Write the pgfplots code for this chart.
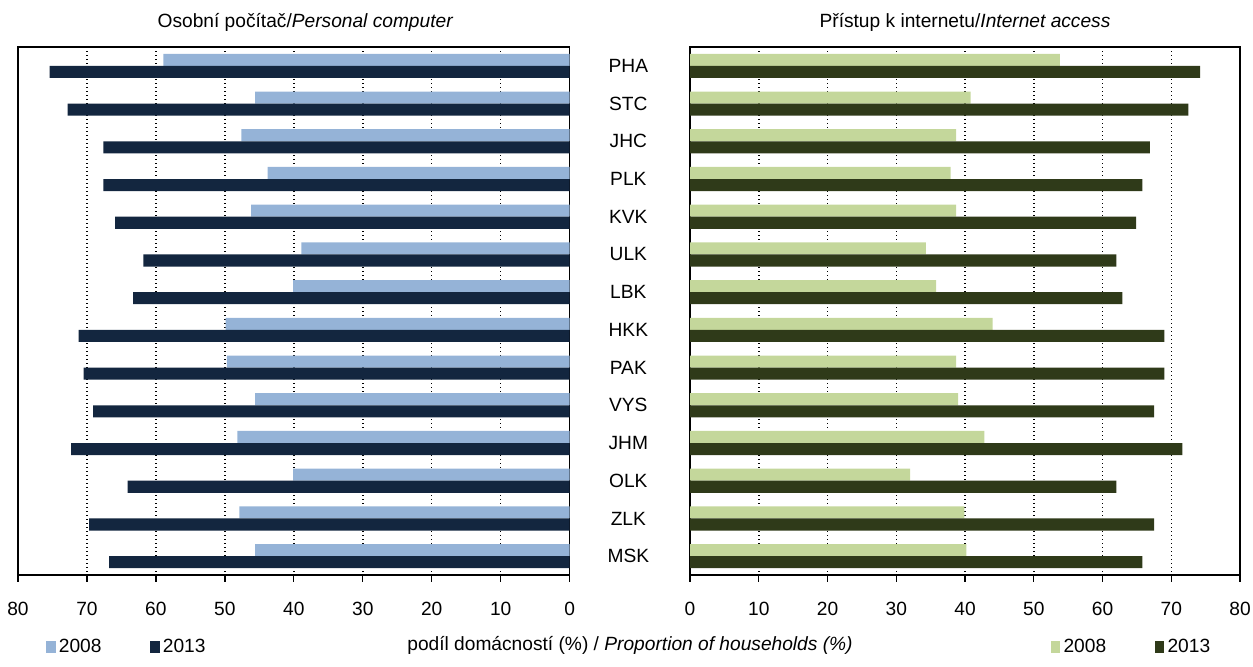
\documentclass[border=0pt]{standalone}
\usepackage{fontspec}
\setmainfont{Liberation Sans}
\usepackage{pgfplots}
\usepackage{pgfplotstable}
\pgfplotsset{compat=1.18}

\definecolor{pcLight}{HTML}{95B3D7}
\definecolor{pcDark}{HTML}{13263F}
\definecolor{iaLight}{HTML}{C4D79B}
\definecolor{iaDark}{HTML}{2F3A19}

% share of households, regions top to bottom
\pgfplotstableread{
idx pc08 pc13 ia08 ia13
0  58.9 75.4 53.8 74.2
1  45.6 72.8 40.8 72.5
2  47.6 67.6 38.7 66.9
3  43.8 67.6 37.9 65.8
4  46.2 65.9 38.7 64.9
5  38.9 61.8 34.3 62.0
6  40.1 63.3 35.8 62.9
7  49.9 71.2 44.0 69.0
8  49.7 70.5 38.7 69.0
9  45.6 69.1 39.0 67.5
10 48.2 72.3 42.8 71.6
11 40.1 64.1 32.0 62.0
12 47.9 69.7 39.9 67.5
13 45.6 66.8 40.2 65.8
}\regions

\def\chartfont{\fontsize{11.5}{13}\selectfont}

\pgfplotsset{
  panel/.style={
    scale only axis,
    width=331pt, height=316.8pt,
    xbar, bar width=0.32,
    xmin=0, xmax=80,
    ymin=-0.5, ymax=13.5,
    y dir=reverse,
    xtick={0,10,...,80},
    xmajorgrids,
    major grid style={dotted, black, line width=0.9pt},
    axis line style={black, line width=0.8pt},
    xtick pos=bottom,
    tick align=outside,
    major tick length=4pt,
    x tick style={black, line width=0.8pt},
    /pgf/number format/assume math mode=true,
    tick label style={font=\chartfont},
    xticklabel style={yshift=-8.5pt},
    legend columns=2,
    legend style={draw=none, fill=none, font=\chartfont,
      /tikz/every even column/.append style={column sep=27pt},
      inner sep=0pt},
    legend image code/.code={\path[#1, draw=none] (0pt,-3.6pt) rectangle (5.8pt,3.6pt);},
    title style={at={(0.5,1)}, anchor=center, yshift=8.5pt, font=\chartfont},
  },
}

\begin{document}
\begin{tikzpicture}
\path[use as bounding box] (0,0) rectangle (751.8pt,399.6pt);

% personal computer, mirrored
\begin{axis}[panel,
  at={(10.8pt,54.6pt)}, anchor=south west,
  x dir=reverse,
  ytick=\empty,
  title={Osobní počítač/\textit{Personal computer}},
  title style={xshift=7pt},
  legend style={at={(0.05,-0.136)}, anchor=west},
]
\addplot[fill=pcLight, draw=none, bar shift=-0.16] table[x=pc08, y=idx] {\regions};
\addplot[fill=pcDark, draw=none, bar shift=0.16] table[x=pc13, y=idx] {\regions};
\legend{2008, 2013}
\end{axis}

% internet access
\begin{axis}[panel,
  at={(414pt,54.6pt)}, anchor=south west,
  width=330pt,
  ytick={0,...,13},
  yticklabels={PHA,STC,JHC,PLK,KVK,ULK,LBK,HKK,PAK,VYS,JHM,OLK,ZLK,MSK},
  y tick style={draw=none},
  yticklabel style={anchor=center, xshift=-33pt},
  title={Přístup k internetu/\textit{Internet access}},
  legend style={at={(0.655,-0.136)}, anchor=west},
]
\addplot[fill=iaLight, draw=none, bar shift=-0.16] table[x=ia08, y=idx] {\regions};
\addplot[fill=iaDark, draw=none, bar shift=0.16] table[x=ia13, y=idx] {\regions};
\legend{2008, 2013}
\end{axis}

\node[font=\chartfont] at (378pt,12.6pt)
  {podíl domácností (\%) / \textit{Proportion of households (\%)}};
\end{tikzpicture}
\end{document}
